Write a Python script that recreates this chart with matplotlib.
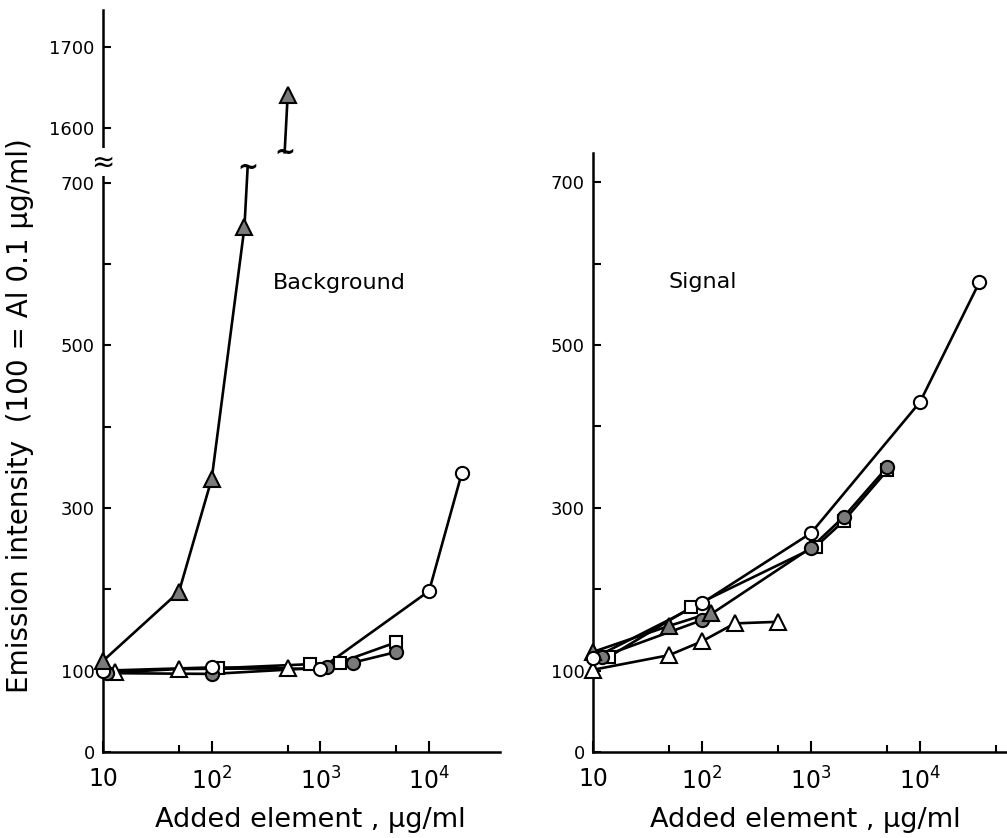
import numpy as np
import matplotlib
matplotlib.use("Agg")
import matplotlib.pyplot as plt
from matplotlib.ticker import FixedLocator, NullFormatter, FixedFormatter

# ---------------- data: Background (left panel) ----------------
bg_tri_f_x = [10, 50, 100, 200, 500]
bg_tri_f_y = [112, 197, 336, 645, 1640]
bg_circ_o_x = [10, 100, 1000, 10000, 20000]
bg_circ_o_y = [100, 104, 102, 198, 343]
bg_sq_o_x = [115, 800, 1500, 5000]
bg_sq_o_y = [103, 108, 110, 135]
bg_circ_f_x = [11, 100, 1150, 2000, 5000]
bg_circ_f_y = [97, 96, 104, 110, 123]
bg_tri_o_x = [13, 50, 500]
bg_tri_o_y = [98, 102, 103]

# ---------------- data: Signal (right panel) ----------------
sg_circ_o_x = [10, 100, 1000, 10000, 35000]
sg_circ_o_y = [115, 183, 269, 430, 577]
sg_circ_f_x = [12, 100, 1000, 2000, 5000]
sg_circ_f_y = [117, 162, 251, 289, 350]
sg_sq_o_x = [14, 80, 1100, 2000, 5000]
sg_sq_o_y = [117, 178, 252, 284, 346]
sg_tri_f_x = [10, 50, 120]
sg_tri_f_y = [123, 155, 171]
sg_tri_o_x = [10, 50, 100, 200, 500]
sg_tri_o_y = [101, 119, 136, 158, 160]

x_ticks = [10, 100, 1000, 10000]
x_ticklabels = ['10', r'$10^2$', r'$10^3$', r'$10^4$']
x_minor = [50, 500, 5000, 50000]
y_ticks_left = [0, 100, 200, 300, 400, 500, 600, 700, 1600, 1700]
y_labels_left = ['0', '100', '', '300', '', '500', '', '700', '1600', '1700']
y_ticks_right = [0, 100, 200, 300, 400, 500, 600, 700]
y_labels_right = ['0', '100', '', '300', '', '500', '', '700']

# broken y scale for left panel
B1, B2, EPS = 725.0, 1558.4, 1e-3
GAP = (B2 - B1) * (1 - EPS)

def fwd(y):
    y = np.asarray(y, dtype=float)
    return np.where(y <= B1, y, np.where(y < B2, B1 + (y - B1) * EPS, y - GAP))

def inv(u):
    u = np.asarray(u, dtype=float)
    top = B1 + (B2 - B1) * EPS
    return np.where(u <= B1, u, np.where(u < top, B1 + (u - B1) / EPS, u + GAP))

plt.rcParams['font.family'] = ['DejaVu Sans']
W, H = 1007, 838
fig = plt.figure(figsize=(W / 100, H / 100), dpi=100)

axL = fig.add_axes([103 / W, 86 / H, 397 / W, 742 / H])
axR = fig.add_axes([593 / W, 86 / H, 414 / W, 599 / H])

GRAY = '#7a7a7a'
LW = 1.9
MEW = 1.5

def series(ax, x, y, marker, filled, ms, z=3):
    ax.plot(x, y, '-', color='black', lw=LW, zorder=2)
    ax.plot(x, y, linestyle='none', marker=marker, ms=ms,
            mfc=GRAY if filled else 'white', mec='black', mew=MEW, zorder=z)

def style(ax):
    for s in ['top', 'right']:
        ax.spines[s].set_visible(False)
    for s in ['left', 'bottom']:
        ax.spines[s].set_linewidth(1.8)
    ax.set_xscale('log')
    ax.xaxis.set_major_locator(FixedLocator(x_ticks))
    ax.xaxis.set_major_formatter(FixedFormatter(x_ticklabels))
    ax.xaxis.set_minor_locator(FixedLocator(x_minor))
    ax.xaxis.set_minor_formatter(NullFormatter())
    ax.tick_params(axis='x', which='major', direction='in', length=8, width=1.5,
                   labelsize=17, pad=11)
    ax.tick_params(axis='x', which='minor', direction='in', length=5, width=1.5)
    ax.tick_params(axis='y', which='major', direction='in', length=6, width=1.5,
                   labelsize=13, pad=6)
    ax.tick_params(axis='y', which='minor', length=0)

# ---- left panel ----
style(axL)
axL.set_yscale('function', functions=(fwd, inv))
axL.set_xlim(10, 10 ** (1 + 397 / 108.7))
axL.set_ylim(0, 1745)
axL.yaxis.set_major_locator(FixedLocator(y_ticks_left))
axL.yaxis.set_major_formatter(FixedFormatter(y_labels_left))
axL.yaxis.set_minor_locator(FixedLocator([]))

series(axL, bg_tri_o_x, bg_tri_o_y, '^', False, 11)
series(axL, bg_sq_o_x, bg_sq_o_y, 's', False, 9)
series(axL, bg_circ_f_x, bg_circ_f_y, 'o', True, 9.5)
series(axL, bg_circ_o_x, bg_circ_o_y, 'o', False, 9.5)

# filled triangles with broken segment between 200 and 500
lx = np.log10(bg_tri_f_x)
y_lo_end, y_hi_start = 718.0, 1570.0
f1 = (y_lo_end - bg_tri_f_y[3]) / (bg_tri_f_y[4] - bg_tri_f_y[3])
f2 = (y_hi_start - bg_tri_f_y[3]) / (bg_tri_f_y[4] - bg_tri_f_y[3])
xb1 = 10 ** (lx[3] + f1 * (lx[4] - lx[3]))
xb2 = 10 ** (lx[3] + f2 * (lx[4] - lx[3]))
axL.plot(list(bg_tri_f_x[:4]) + [xb1], list(bg_tri_f_y[:4]) + [y_lo_end],
         '-', color='black', lw=LW, zorder=2)
axL.plot([xb2, bg_tri_f_x[4]], [y_hi_start, bg_tri_f_y[4]],
         '-', color='black', lw=LW, zorder=2)
axL.plot(bg_tri_f_x, bg_tri_f_y, linestyle='none', marker='^', ms=11,
         mfc=GRAY, mec='black', mew=MEW, zorder=4)
for xb, yb in [(xb1, y_lo_end), (xb2, y_hi_start)]:
    axL.text(xb, yb, '~', fontsize=18, ha='center', va='center',
             fontweight='bold', zorder=5)

# axis break mark
axL.text(0, B1 + 0.4, '≈', transform=axL.get_yaxis_transform(),
         fontsize=20, ha='center', va='center', zorder=6, clip_on=False,
         bbox=dict(boxstyle='square,pad=0.0', fc='white', ec='none'))

axL.text(366, 577, 'Background', fontsize=16, ha='left', va='center')

# ---- right panel ----
style(axR)
axR.set_xlim(10, 10 ** (1 + 414 / 109))
axR.set_ylim(0, 736)
axR.yaxis.set_major_locator(FixedLocator(y_ticks_right))
axR.yaxis.set_major_formatter(FixedFormatter(y_labels_right))

series(axR, sg_tri_o_x, sg_tri_o_y, '^', False, 11)
series(axR, sg_sq_o_x, sg_sq_o_y, 's', False, 9)
series(axR, sg_circ_f_x, sg_circ_f_y, 'o', True, 9.5)
series(axR, sg_tri_f_x, sg_tri_f_y, '^', True, 11)
series(axR, sg_circ_o_x, sg_circ_o_y, 'o', False, 9.5)
for ax in (axL, axR):
    for line in ax.lines:
        line.set_clip_on(False)

axR.text(49, 577, 'Signal', fontsize=16, ha='left', va='center')

# ---- labels ----
fig.text(20 / W, 1 - 416 / H, 'Emission intensity  (100 = Al 0.1 μg/ml)',
         rotation=90, ha='center', va='center', fontsize=20)
fig.text(310 / W, 1 - 820 / H, 'Added element , μg/ml', ha='center',
         va='center', fontsize=19.5)
fig.text(805 / W, 1 - 820 / H, 'Added element , μg/ml', ha='center',
         va='center', fontsize=19.5)

fig.savefig('out.png', dpi=100)
